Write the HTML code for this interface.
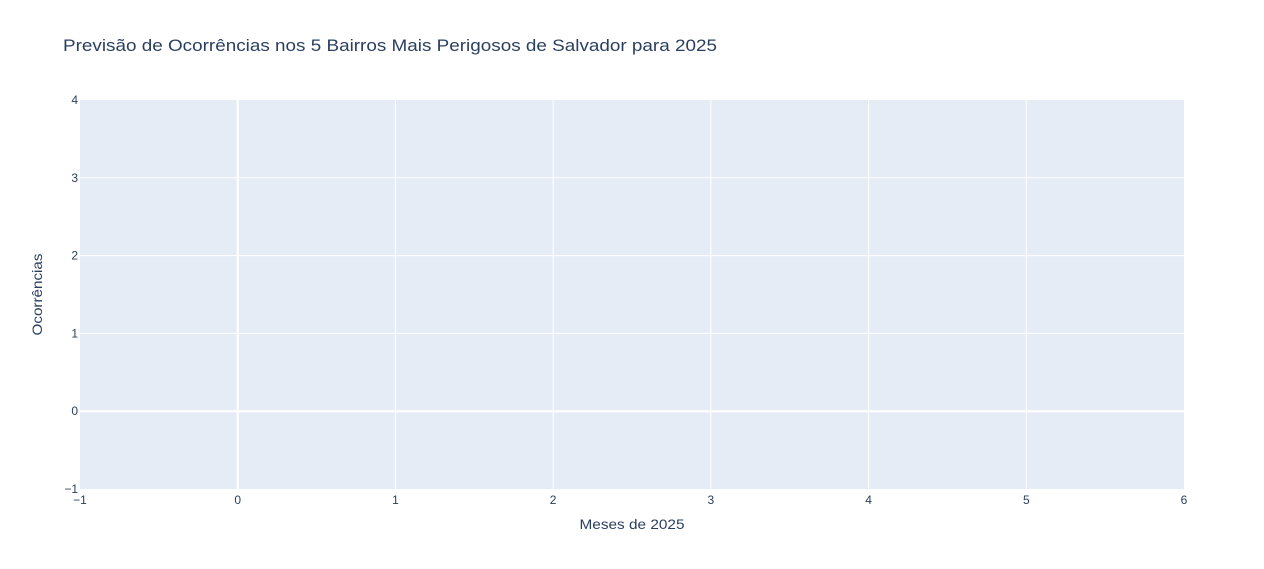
<!DOCTYPE html>
<html><head><meta charset="utf-8">
<style>
html,body{margin:0;padding:0;background:#fff;}
svg{display:block;font-family:"Liberation Sans","Open Sans",sans-serif;}
</style></head>
<body>
<svg id="chart" width="1264" height="569">
  <rect x="0" y="0" width="1264" height="569" fill="#fff"/>
  <rect id="plot-bg" x="80" y="100" width="1104" height="389" fill="#e5ecf6"/>
  <g id="grid"></g>
  <g id="ticks"></g>
  <text x="63" y="51" font-size="17" fill="#2a3f5f" textLength="654" lengthAdjust="spacingAndGlyphs">Previsão de Ocorrências nos 5 Bairros Mais Perigosos de Salvador para 2025</text>
  <text x="632" y="529" font-size="14" fill="#2a3f5f" text-anchor="middle" textLength="105" lengthAdjust="spacingAndGlyphs">Meses de 2025</text>
  <text x="0" y="0" font-size="14" fill="#2a3f5f" text-anchor="middle" textLength="82" lengthAdjust="spacingAndGlyphs" transform="translate(42,294.5) rotate(-90)">Ocorrências</text>
</svg>
<script>
const xTicks = [-1, 0, 1, 2, 3, 4, 5, 6];
const yTicks = [-1, 0, 1, 2, 3, 4];
const xDomain = [-1, 6];
const yDomain = [-1, 4];
const seriesNames = [];
const seriesValues = [];

const L = 80, R = 1184, T = 100, B = 489;
function xs(v){ return L + (v - xDomain[0]) / (xDomain[1] - xDomain[0]) * (R - L); }
function ys(v){ return B - (v - yDomain[0]) / (yDomain[1] - yDomain[0]) * (B - T); }
const NS = "http://www.w3.org/2000/svg";
const grid = document.getElementById('grid');
const ticks = document.getElementById('ticks');

xTicks.forEach(function(t){
  const x = xs(t);
  if (t !== xDomain[0] && t !== xDomain[1]) {
    const ln = document.createElementNS(NS, 'line');
    ln.setAttribute('x1', x); ln.setAttribute('x2', x);
    ln.setAttribute('y1', T); ln.setAttribute('y2', B);
    ln.setAttribute('stroke', '#fff');
    ln.setAttribute('stroke-width', t === 0 ? 2 : 1);
    
    
    grid.appendChild(ln);
  }
  const tx = document.createElementNS(NS, 'text');
  tx.setAttribute('x', x); tx.setAttribute('y', B + 15);
  tx.setAttribute('font-size', '12'); tx.setAttribute('fill', '#2a3f5f');
  tx.setAttribute('text-anchor', 'middle');
  tx.textContent = t < 0 ? '\u2212' + Math.abs(t) : String(t);
  
  
  ticks.appendChild(tx);
});

yTicks.forEach(function(t){
  const y = ys(t);
  if (t !== yDomain[0] && t !== yDomain[1]) {
    const ln = document.createElementNS(NS, 'line');
    ln.setAttribute('x1', L); ln.setAttribute('x2', R);
    ln.setAttribute('y1', y); ln.setAttribute('y2', y);
    ln.setAttribute('stroke', '#fff');
    ln.setAttribute('stroke-width', t === 0 ? 2 : 1);
    
    
    grid.appendChild(ln);
  }
  const tx = document.createElementNS(NS, 'text');
  tx.setAttribute('x', L - 2); tx.setAttribute('y', y + 4);
  tx.setAttribute('font-size', '12'); tx.setAttribute('fill', '#2a3f5f');
  tx.setAttribute('text-anchor', 'end');
  tx.textContent = t < 0 ? '\u2212' + Math.abs(t) : String(t);
  
  
  ticks.appendChild(tx);
});
</script>
</body></html>
